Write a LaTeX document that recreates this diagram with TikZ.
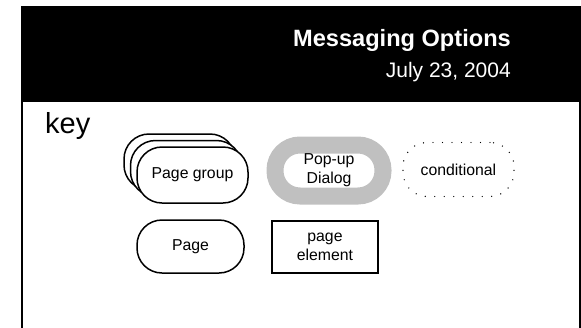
\documentclass[tikz,border=0pt]{standalone}
\usepackage{fontspec}
\setmainfont{Liberation Sans}
\begin{document}
\begin{tikzpicture}[x=1pt,y=-1pt,
  lbl/.style={font=\fontsize{15.8}{19}\selectfont, align=center},
  pageshape/.style={draw=black, line width=1.5pt, fill=white, rounded corners=25pt, minimum width=#1, minimum height=54pt, inner sep=0pt},
  frameline/.style={line width=2pt, draw=black}]
\useasboundingbox (0,0) rectangle (581,327);
% header band and frame
\fill[black] (21,6) rectangle (581,102);
\draw[frameline] (22,101) -- (22,328);
\draw[frameline] (580,101) -- (580,328);
\node[anchor=base east, inner sep=0pt, text=white, font=\fontsize{23.6}{28}\selectfont\bfseries] (title) at (511,46) {Messaging Options};
\node[anchor=base east, inner sep=0pt, text=white, font=\fontsize{21}{25}\selectfont] (date) at (511,77) {July 23, 2004};
\node[anchor=base west, inner sep=0pt, font=\fontsize{29}{34}\selectfont] (key) at (45,133) {key};
% page group
\node[pageshape=111pt, minimum height=56pt] (pg3) at (179.5,162) {};
\node[pageshape=111pt, minimum height=56pt] (pg2) at (186,168.5) {};
\node[pageshape=111pt, minimum height=56pt, lbl] (pg1) at (192.5,175) {Page group};
% popup
\node[draw={rgb,255:red,192;green,192;blue,192}, line width=17pt, rounded corners=25pt, minimum width=108pt, minimum height=51pt, inner sep=0pt, lbl] (popup) at (329,170.5) {Pop-up\\Dialog};
% conditional
\node[draw=black, line width=1.4pt, line cap=round, dash pattern=on 0pt off 9.5pt, rounded corners=24pt, minimum width=111pt, minimum height=54pt, inner sep=0pt, lbl] (cond) at (458.5,169.5) {conditional};
% page
\node[pageshape=107pt, minimum height=53pt, lbl] (page) at (190.5,246.5) {Page};
% page element
\node[draw=black, line width=1.8pt, minimum width=106pt, minimum height=52pt, inner sep=0pt, lbl] (pel) at (325,247) {page\\element};
\end{tikzpicture}
\end{document}
